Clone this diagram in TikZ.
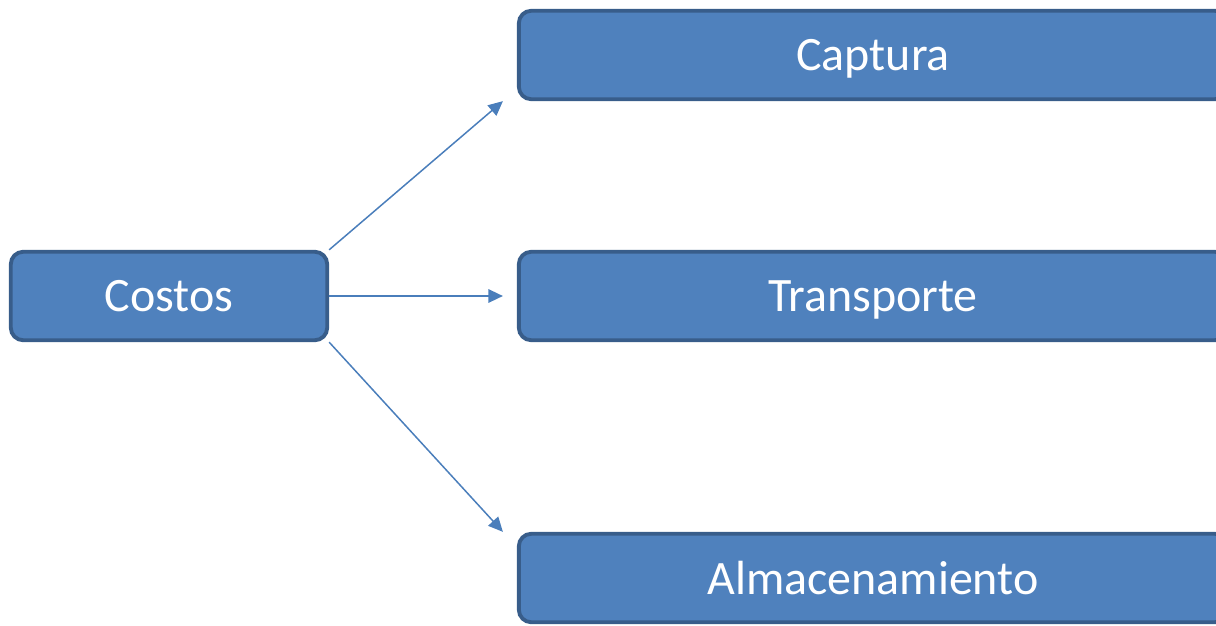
\documentclass[tikz,border=0pt]{standalone}
\usepackage{fontspec}
\setmainfont{Carlito}
\usetikzlibrary{arrows.meta}
\definecolor{boxfill}{HTML}{4F81BD}
\definecolor{boxline}{HTML}{385D8A}
\definecolor{arrowblue}{HTML}{4A7EBB}
\begin{document}
\begin{tikzpicture}[x=0.02cm, y=-0.02cm,
    every node/.style={draw=boxline, fill=boxfill, line width=2.2pt, rounded corners=0.25cm,
        text=white, font=\fontsize{27.3}{32}\selectfont, inner sep=0pt, text depth=0pt},
    leftbox/.style={minimum width=6.33cm, minimum height=1.77cm},
    rightbox/.style={minimum width=14.17cm, minimum height=1.77cm},
    link/.style={draw=arrowblue, line width=0.85pt, -{Triangle[length=0.29cm, width=0.27cm]}}]
            \useasboundingbox (0,0) rectangle (1216,625);
            \node[leftbox] (costos) at (169,296) {Costos};
            \node[rightbox] (captura) at (873,55) {Captura};
            \node[rightbox] (transporte) at (873,296) {Transporte};
            \node[rightbox] (almacen) at (873,578) {Almacenamiento};
            \draw[link] (costos.north east) -- ([xshift=-0.28cm]captura.south west);
            \draw[link] (costos.east) -- ([xshift=-0.28cm]transporte.west);
            \draw[link] (costos.south east) -- ([xshift=-0.28cm]almacen.north west);
        \end{tikzpicture}
\end{document}
